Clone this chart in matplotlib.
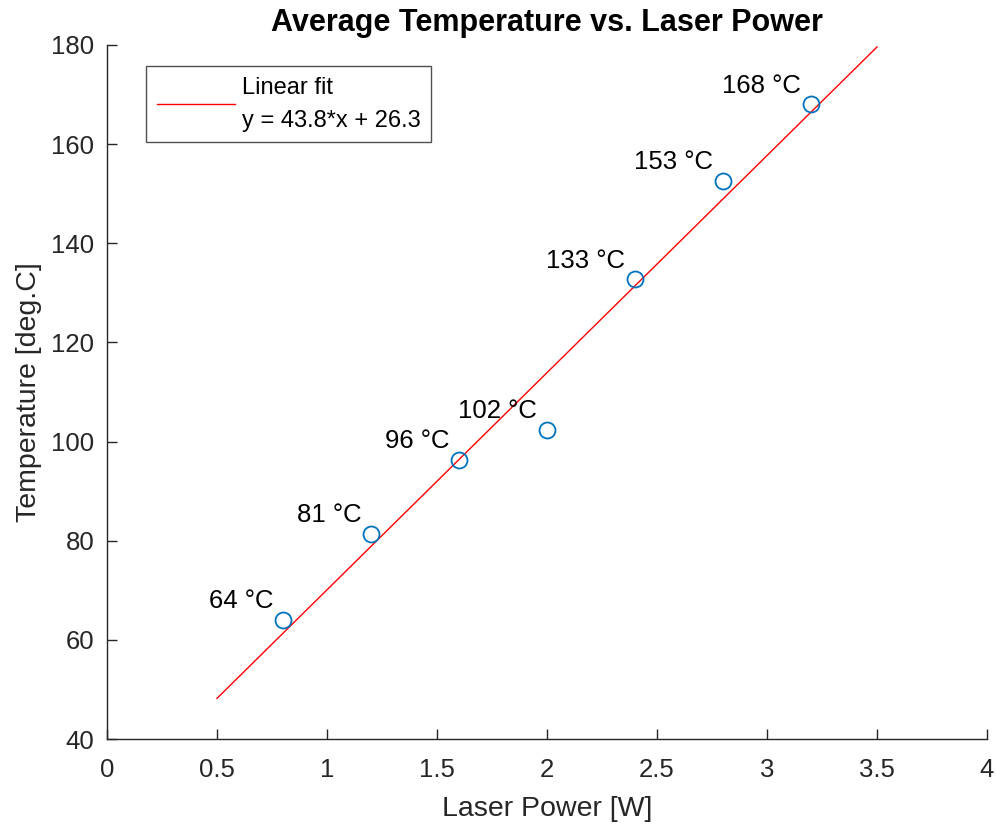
import numpy as np
import matplotlib.pyplot as plt

plt.rcParams['font.family'] = ['Liberation Sans', 'DejaVu Sans']

# Mesures
power = np.array([0.8, 1.2, 1.6, 2.0, 2.4, 2.8, 3.2])
temp = np.array([64.1, 81.4, 96.2, 102.3, 132.7, 152.6, 168.0])
labels = ['64 °C', '81 °C', '96 °C', '102 °C', '133 °C', '153 °C', '168 °C']

# Fit lineaire
slope = 43.8
intercept = 26.3
xFit = np.array([0.5, 3.5])

axCol = '#262626'

fig = plt.figure(figsize=(9.96, 8.25), dpi=100)
ax = fig.add_axes([0.1074, 0.1042, 0.8836, 0.8413])

ax.plot(xFit, slope * xFit + intercept, color='red', lw=1,
        label='Linear fit\ny = %.1f*x + %.1f' % (slope, intercept))
ax.plot(power, temp, 'o', mfc='none', mec='#0072BD', ms=11.5, mew=1.3)

for x, y, s in zip(power, temp, labels):
    ax.annotate(s, (x, y), xytext=(-7, 5), textcoords='offset points',
                ha='right', va='bottom', fontsize=18.5, color='black')

ax.set_xlim(0, 4)
ax.set_ylim(40, 180)
ax.set_xticks(np.arange(0, 4.01, 0.5))
ax.set_xticklabels(['0', '0.5', '1', '1.5', '2', '2.5', '3', '3.5', '4'])
ax.set_yticks(np.arange(40, 181, 20))

for sp in ['top', 'right']:
    ax.spines[sp].set_visible(False)
for sp in ['left', 'bottom']:
    ax.spines[sp].set_color(axCol)
    ax.spines[sp].set_linewidth(1)
ax.tick_params(direction='in', length=7, width=1, colors=axCol, labelsize=18.5)
ax.tick_params(axis='x', pad=14)
ax.tick_params(axis='y', pad=9)

ax.set_xlabel('Laser Power [W]', fontsize=20.5, color=axCol, labelpad=10)
ax.set_ylabel('Temperature [deg.C]', fontsize=20.5, color=axCol, labelpad=7)
ax.set_title('Average Temperature vs. Laser Power', fontsize=22, fontweight='bold', pad=10)

leg = ax.legend(loc='upper left', bbox_to_anchor=(146 / 996, 1 - 66 / 825),
                bbox_transform=fig.transFigure, borderaxespad=0, fontsize=17,
                fancybox=False, frameon=True, handlelength=3.3, handletextpad=0.3,
                borderpad=0.45)
leg.get_texts()[0].set_linespacing(1.65)
leg.get_frame().set_edgecolor(axCol)
leg.get_frame().set_linewidth(1)

fig.savefig('out.png', dpi=100)
